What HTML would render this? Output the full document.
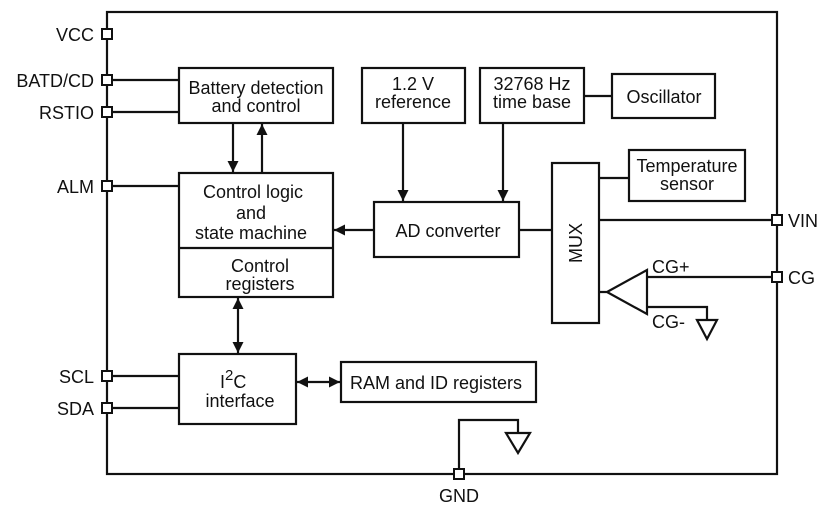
<!DOCTYPE html>
<html><head><meta charset="utf-8"><style>
html,body{margin:0;padding:0;background:#fff;}
svg{display:block;}
text{font-family:"Liberation Sans",Arial,sans-serif;font-size:18px;fill:#111;}
</style></head><body>
<svg width="834" height="528" viewBox="0 0 834 528" xmlns="http://www.w3.org/2000/svg">
<defs>
<marker id="ah" viewBox="0 0 10 10" refX="10" refY="5" markerWidth="11" markerHeight="11" markerUnits="userSpaceOnUse" orient="auto-start-reverse">
<path d="M0,0 L10,5 L0,10 z" fill="#111"/></marker>
</defs>
<g stroke="#111" stroke-width="2.2" fill="none">
<rect x="107" y="12" width="670" height="462"/>
<rect x="179" y="68" width="154" height="55" fill="#fff"/>
<rect x="179" y="173" width="154" height="124" fill="#fff"/>
<line x1="179" y1="248" x2="333" y2="248"/>
<rect x="362" y="68" width="103" height="55"/>
<rect x="480" y="68" width="104" height="55"/>
<rect x="612" y="74" width="103" height="44"/>
<rect x="374" y="202" width="145" height="55"/>
<rect x="552" y="163" width="47" height="160"/>
<rect x="629" y="150" width="116" height="51"/>
<rect x="179" y="354" width="117" height="70"/>
<rect x="341" y="362" width="195" height="40"/>
<line x1="112" y1="80" x2="179" y2="80"/>
<line x1="112" y1="112" x2="179" y2="112"/>
<line x1="112" y1="186" x2="179" y2="186"/>
<line x1="112" y1="376" x2="179" y2="376"/>
<line x1="112" y1="408" x2="179" y2="408"/>
<line x1="233" y1="123" x2="233" y2="172" marker-end="url(#ah)"/>
<line x1="262" y1="173" x2="262" y2="124" marker-end="url(#ah)"/>
<line x1="403" y1="123" x2="403" y2="201" marker-end="url(#ah)"/>
<line x1="503" y1="123" x2="503" y2="201" marker-end="url(#ah)"/>
<line x1="584" y1="96" x2="612" y2="96"/>
<line x1="374" y1="230" x2="334" y2="230" marker-end="url(#ah)"/>
<line x1="519" y1="230" x2="552" y2="230"/>
<line x1="599" y1="178" x2="629" y2="178"/>
<line x1="599" y1="220" x2="772" y2="220"/>
<line x1="238" y1="298" x2="238" y2="353" marker-start="url(#ah)" marker-end="url(#ah)"/>
<line x1="297" y1="382" x2="340" y2="382" marker-start="url(#ah)" marker-end="url(#ah)"/>
<path d="M599,292 L607,292 L647,270 L647,314 L607,292"/>
<line x1="647" y1="277" x2="772" y2="277"/>
<polyline points="647,307 707,307 707,320"/>
<path d="M697,320 L717,320 L707,339 z"/>
<polyline points="459,469 459,420 518,420 518,433"/>
<path d="M506,433 L530,433 L518,453 z"/>
</g>
<g stroke="#111" stroke-width="2" fill="#fff">
<rect x="102" y="29" width="10" height="10"/>
<rect x="102" y="75" width="10" height="10"/>
<rect x="102" y="107" width="10" height="10"/>
<rect x="102" y="181" width="10" height="10"/>
<rect x="102" y="371" width="10" height="10"/>
<rect x="102" y="403" width="10" height="10"/>
<rect x="772" y="215" width="10" height="10"/>
<rect x="772" y="272" width="10" height="10"/>
<rect x="454" y="469" width="10" height="10"/>
</g>
<g text-anchor="end">
<text x="94" y="41">VCC</text>
<text x="94" y="87">BATD/CD</text>
<text x="94" y="119">RSTIO</text>
<text x="94" y="193">ALM</text>
<text x="94" y="383">SCL</text>
<text x="94" y="415">SDA</text>
</g>
<text x="788" y="227">VIN</text>
<text x="788" y="284">CG</text>
<text x="459" y="502" text-anchor="middle">GND</text>
<text x="652" y="273">CG+</text>
<text x="652" y="328">CG-</text>
<g text-anchor="middle">
<text x="256" y="94">Battery detection</text>
<text x="256" y="112">and control</text>
<text x="253" y="198">Control logic</text>
<text x="251" y="219">and</text>
<text x="251" y="239">state machine</text>
<text x="260" y="272">Control</text>
<text x="260" y="290">registers</text>
<text x="413" y="90">1.2 V</text>
<text x="413" y="108">reference</text>
<text x="532" y="90">32768 Hz</text>
<text x="532" y="108">time base</text>
<text x="664" y="103">Oscillator</text>
<text x="687" y="172">Temperature</text>
<text x="687" y="190">sensor</text>
<text x="448" y="237">AD converter</text>
<text x="240" y="407">interface</text>
<text x="436" y="389">RAM and ID registers</text>
</g>
<text x="220" y="388">I<tspan dy="-8" font-size="15">2</tspan><tspan dy="8">C</tspan></text>
<text transform="translate(582,243) rotate(-90)" text-anchor="middle">MUX</text>
</svg>
</body></html>
